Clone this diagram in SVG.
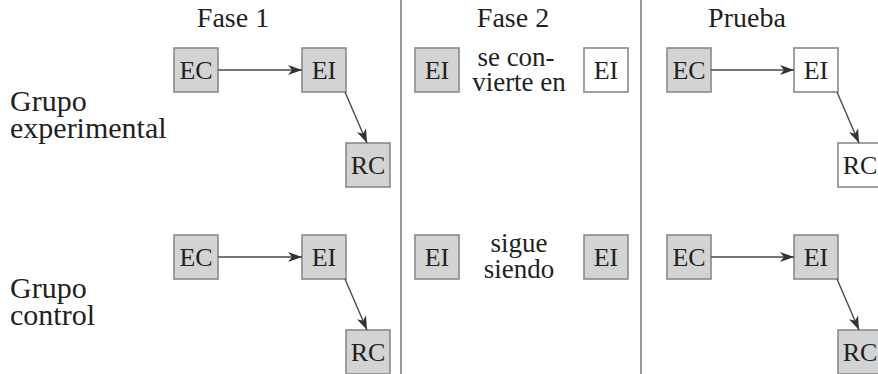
<svg xmlns="http://www.w3.org/2000/svg" width="878" height="374" viewBox="0 0 878 374">
<defs>
<marker id="ah" viewBox="0 0 14 10" refX="14" refY="5" markerWidth="14" markerHeight="10" markerUnits="userSpaceOnUse" orient="auto">
<path d="M0,0 L14,5 L0,10 L4,5 Z" fill="#333"/>
</marker>
</defs>
<rect width="878" height="374" fill="#fff"/>
<line x1="401" y1="0" x2="401" y2="374" stroke="#9a9a9a" stroke-width="2"/>
<line x1="641" y1="0" x2="641" y2="374" stroke="#9a9a9a" stroke-width="2"/>
<g id="headers">
<text x="233" y="27" text-anchor="middle" style="font-family:'Liberation Serif',serif;font-size:28px;fill:#231f20">Fase 1</text>
<text x="513" y="27" text-anchor="middle" style="font-family:'Liberation Serif',serif;font-size:28px;fill:#231f20">Fase 2</text>
<text x="747" y="27" text-anchor="middle" style="font-family:'Liberation Serif',serif;font-size:28px;fill:#231f20">Prueba</text>
</g>
<g id="label-exp"><text x="10" y="111" style="font-family:'Liberation Serif',serif;font-size:30px;fill:#231f20">Grupo</text><text x="10" y="138" style="font-family:'Liberation Serif',serif;font-size:30px;fill:#231f20">experimental</text></g>
<g id="label-ctl"><text x="10" y="298" style="font-family:'Liberation Serif',serif;font-size:30px;fill:#231f20">Grupo</text><text x="10" y="325" style="font-family:'Liberation Serif',serif;font-size:30px;fill:#231f20">control</text></g>
<g id="f1-ec-top"><rect x="174" y="48" width="44" height="44" fill="#d2d3d5" stroke="#8a8a8a" stroke-width="1.6"/><text x="196" y="79" text-anchor="middle" style="font-family:'Liberation Serif',serif;font-size:26px;fill:#231f20">EC</text></g>
<g id="f1-ei-top"><rect x="302" y="48" width="44" height="44" fill="#d2d3d5" stroke="#8a8a8a" stroke-width="1.6"/><text x="324" y="79" text-anchor="middle" style="font-family:'Liberation Serif',serif;font-size:26px;fill:#231f20">EI</text></g>
<g id="f1-rc-top"><rect x="346" y="143" width="44" height="44" fill="#d2d3d5" stroke="#8a8a8a" stroke-width="1.6"/><text x="368" y="174" text-anchor="middle" style="font-family:'Liberation Serif',serif;font-size:26px;fill:#231f20">RC</text></g>
<g id="f1-ec-bot"><rect x="174" y="235" width="44" height="44" fill="#d2d3d5" stroke="#8a8a8a" stroke-width="1.6"/><text x="196" y="266" text-anchor="middle" style="font-family:'Liberation Serif',serif;font-size:26px;fill:#231f20">EC</text></g>
<g id="f1-ei-bot"><rect x="302" y="235" width="44" height="44" fill="#d2d3d5" stroke="#8a8a8a" stroke-width="1.6"/><text x="324" y="266" text-anchor="middle" style="font-family:'Liberation Serif',serif;font-size:26px;fill:#231f20">EI</text></g>
<g id="f1-rc-bot"><rect x="346" y="330" width="44" height="44" fill="#d2d3d5" stroke="#8a8a8a" stroke-width="1.6"/><text x="368" y="361" text-anchor="middle" style="font-family:'Liberation Serif',serif;font-size:26px;fill:#231f20">RC</text></g>
<g id="f2-ei-top-a"><rect x="415" y="48" width="44" height="44" fill="#d2d3d5" stroke="#8a8a8a" stroke-width="1.6"/><text x="437" y="79" text-anchor="middle" style="font-family:'Liberation Serif',serif;font-size:26px;fill:#231f20">EI</text></g>
<g id="f2-text-top"><text x="516" y="66" text-anchor="middle" style="font-family:'Liberation Serif',serif;font-size:27px;fill:#231f20">se con-</text><text x="519" y="91" text-anchor="middle" style="font-family:'Liberation Serif',serif;font-size:27px;fill:#231f20">vierte en</text></g>
<g id="f2-ei-top-b"><rect x="584" y="48" width="44" height="44" fill="#ffffff" stroke="#8a8a8a" stroke-width="1.6"/><text x="606" y="79" text-anchor="middle" style="font-family:'Liberation Serif',serif;font-size:26px;fill:#231f20">EI</text></g>
<g id="f2-ei-bot-a"><rect x="415" y="235" width="44" height="44" fill="#d2d3d5" stroke="#8a8a8a" stroke-width="1.6"/><text x="437" y="266" text-anchor="middle" style="font-family:'Liberation Serif',serif;font-size:26px;fill:#231f20">EI</text></g>
<g id="f2-text-bot"><text x="519" y="252" text-anchor="middle" style="font-family:'Liberation Serif',serif;font-size:27px;fill:#231f20">sigue</text><text x="519" y="278" text-anchor="middle" style="font-family:'Liberation Serif',serif;font-size:27px;fill:#231f20">siendo</text></g>
<g id="f2-ei-bot-b"><rect x="584" y="235" width="44" height="44" fill="#d2d3d5" stroke="#8a8a8a" stroke-width="1.6"/><text x="606" y="266" text-anchor="middle" style="font-family:'Liberation Serif',serif;font-size:26px;fill:#231f20">EI</text></g>
<g id="p-ec-top"><rect x="667" y="48" width="44" height="44" fill="#d2d3d5" stroke="#8a8a8a" stroke-width="1.6"/><text x="689" y="79" text-anchor="middle" style="font-family:'Liberation Serif',serif;font-size:26px;fill:#231f20">EC</text></g>
<g id="p-ei-top"><rect x="794" y="48" width="44" height="44" fill="#ffffff" stroke="#8a8a8a" stroke-width="1.6"/><text x="816" y="79" text-anchor="middle" style="font-family:'Liberation Serif',serif;font-size:26px;fill:#231f20">EI</text></g>
<g id="p-rc-top"><rect x="838" y="143" width="44" height="44" fill="#ffffff" stroke="#8a8a8a" stroke-width="1.6"/><text x="860" y="174" text-anchor="middle" style="font-family:'Liberation Serif',serif;font-size:26px;fill:#231f20">RC</text></g>
<g id="p-ec-bot"><rect x="667" y="235" width="44" height="44" fill="#d2d3d5" stroke="#8a8a8a" stroke-width="1.6"/><text x="689" y="266" text-anchor="middle" style="font-family:'Liberation Serif',serif;font-size:26px;fill:#231f20">EC</text></g>
<g id="p-ei-bot"><rect x="794" y="235" width="44" height="44" fill="#d2d3d5" stroke="#8a8a8a" stroke-width="1.6"/><text x="816" y="266" text-anchor="middle" style="font-family:'Liberation Serif',serif;font-size:26px;fill:#231f20">EI</text></g>
<g id="p-rc-bot"><rect x="838" y="330" width="44" height="44" fill="#d2d3d5" stroke="#8a8a8a" stroke-width="1.6"/><text x="860" y="361" text-anchor="middle" style="font-family:'Liberation Serif',serif;font-size:26px;fill:#231f20">RC</text></g>
<g id="connectors" stroke="#4a4a4a" stroke-width="1.4" fill="none" marker-end="url(#ah)">
<line x1="218" y1="70" x2="302" y2="70"/>
<line x1="345" y1="92" x2="367" y2="143"/>
<line x1="218" y1="257" x2="302" y2="257"/>
<line x1="345" y1="279" x2="367" y2="330"/>
<line x1="711" y1="70" x2="794" y2="70"/>
<line x1="837" y1="92" x2="859" y2="143"/>
<line x1="711" y1="257" x2="794" y2="257"/>
<line x1="837" y1="279" x2="859" y2="330"/>
</g>
</svg>
